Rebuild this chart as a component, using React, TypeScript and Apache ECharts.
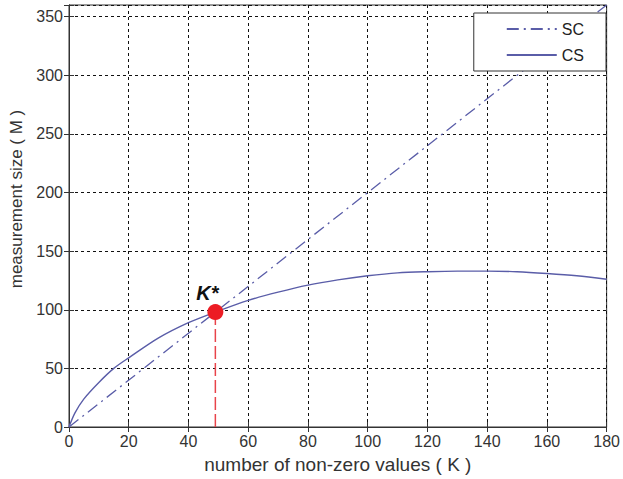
import React, { useEffect, useRef } from "react";
import * as echarts from "echarts";

const scK = [0, 180];
const scM = [0, 360];
const csK = [0, 2, 5, 10, 15, 20, 30, 40, 49, 60, 70, 80, 90, 100, 110, 120, 130, 140, 150, 160, 170, 180];
const csM = [0, 12, 24, 38, 50, 59, 76, 89, 98, 108, 115, 121, 125.5, 129, 131.5, 132.5, 133, 133, 132.5, 131, 129, 126];
const kStar = [49, 98];
const xTicks = { min: 0, max: 180, interval: 20 };
const yTicks = { min: 0, max: 360, interval: 50 };

const FONT = "'Liberation Sans', Arial, sans-serif";
const LINE = "#5a5da8";

export default function App() {
  const ref = useRef<HTMLDivElement>(null);
  useEffect(() => {
    const chart = echarts.init(ref.current!, undefined, { renderer: "svg" });
    const split = { show: true, lineStyle: { color: "#111", type: [3, 3] as any, width: 1 } };
    const tick = { show: true, inside: true, length: 5, lineStyle: { color: "#333" } };
    chart.setOption({
      animation: false,
      backgroundColor: "#fff",
      grid: { left: 69, right: 13, top: 5, bottom: 49, show: true, borderColor: "#333", borderWidth: 1, backgroundColor: "transparent" },
      legend: {
        orient: "vertical",
        right: 17,
        top: 13,
        itemWidth: 50,
        itemHeight: 14,
        itemGap: 10,
        padding: [8, 22, 8, 32],
        borderColor: "#333",
        borderWidth: 1,
        borderRadius: 0,
        backgroundColor: "#fff",
        itemStyle: { opacity: 0 },
        textStyle: { fontFamily: FONT, fontSize: 16, color: "#222" },
        data: ["SC", "CS"],
      },
      xAxis: [
        {
          type: "value",
          ...xTicks,
          name: "number of non-zero values ( K )",
          nameLocation: "middle",
          nameGap: 28,
          nameTextStyle: { fontFamily: FONT, fontSize: 19, color: "#333" },
          axisLine: { show: true, lineStyle: { color: "#333" } },
          axisTick: tick,
          splitLine: split,
          axisLabel: { fontFamily: FONT, fontSize: 16, color: "#333", margin: 6 },
        },
        {
          type: "value",
          position: "top",
          ...xTicks,
          axisLine: { show: true, lineStyle: { color: "#333" } },
          axisTick: tick,
          splitLine: { show: false },
          axisLabel: { show: false },
        },
      ],
      yAxis: [
        {
          type: "value",
          ...yTicks,
          name: "measurement size ( M )",
          nameLocation: "middle",
          nameGap: 44,
          nameTextStyle: { fontFamily: FONT, fontSize: 17, color: "#333", padding: [0, 0, 0, 34] },
          axisLine: { show: true, lineStyle: { color: "#333" } },
          axisTick: tick,
          splitLine: split,
          axisLabel: {
            fontFamily: FONT,
            fontSize: 16,
            color: "#333",
            margin: 6,
            formatter: (v: number) => (v === 360 ? "" : String(v)),
          },
        },
        {
          type: "value",
          position: "right",
          ...yTicks,
          axisLine: { show: true, lineStyle: { color: "#333" } },
          axisTick: tick,
          splitLine: { show: false },
          axisLabel: { show: false },
        },
      ],
      series: [
        {
          name: "SC",
          type: "line",
          symbol: "none",
          data: scK.map((k, i) => [k, scM[i]]),
          lineStyle: { color: LINE, width: 1.3, type: [12, 5, 2, 5] as any },
          itemStyle: { color: LINE },
          z: 3,
        },
        {
          name: "CS",
          type: "line",
          symbol: "none",
          smooth: 0.3,
          data: csK.map((k, i) => [k, csM[i]]),
          lineStyle: { color: LINE, width: 1.4 },
          itemStyle: { color: LINE },
          z: 3,
        },
        {
          name: "drop",
          type: "line",
          symbol: "none",
          data: [[kStar[0], 0], [kStar[0], kStar[1]]],
          lineStyle: { color: "#e8434a", width: 1.5, type: [13, 4] as any },
          z: 4,
        },
        {
          name: "K*",
          type: "scatter",
          data: [kStar],
          symbolSize: 16,
          itemStyle: { color: "#ec1c24", opacity: 1 },
          label: {
            show: true,
            formatter: "K*",
            position: "top",
            distance: 1,
            offset: [-8, 0],
            fontFamily: FONT,
            fontSize: 20,
            fontWeight: "bold",
            fontStyle: "italic",
            color: "#111",
          },
          z: 5,
        },
      ],
    });
    return () => chart.dispose();
  }, []);
  return <div ref={ref} style={{ width: 623, height: 479, position: "absolute", left: 0, top: 0 }} />;
}
